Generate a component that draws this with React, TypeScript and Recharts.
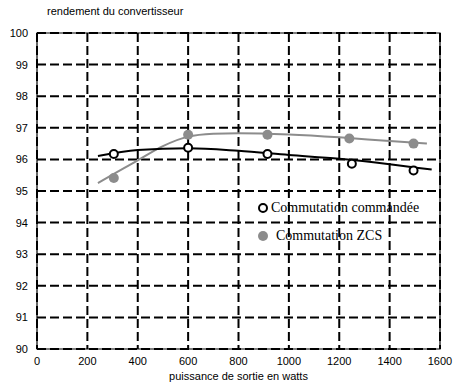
import React from 'react';
import {
  ComposedChart,
  Line,
  Scatter,
  XAxis,
  YAxis,
  CartesianGrid,
  ReferenceArea,
} from 'recharts';

// mesures (points)
const commandeeX = [305, 600, 915, 1250, 1495];
const commandeeY = [96.17, 96.37, 96.17, 95.86, 95.65];
const zcsX = [305, 600, 915, 1240, 1495];
const zcsY = [95.41, 96.78, 96.78, 96.66, 96.5];

// courbes de tendance
const commandeeFitX = [242, 400, 600, 800, 1000, 1200, 1400, 1567];
const commandeeFitY = [96.11, 96.3, 96.35, 96.27, 96.14, 96.02, 95.85, 95.68];
const zcsFitX = [242, 300, 400, 500, 600, 700, 800, 1000, 1200, 1400, 1548];
const zcsFitY = [95.25, 95.52, 95.97, 96.42, 96.72, 96.81, 96.83, 96.79, 96.7, 96.58, 96.5];

const xTicks = [0, 200, 400, 600, 800, 1000, 1200, 1400, 1600];
const yTicks = [90, 91, 92, 93, 94, 95, 96, 97, 98, 99, 100];

const zip = (xs: number[], ys: number[]) => xs.map((x, i) => ({ x, y: ys[i] }));

const GRAY = '#8c8c8c';
const sans = '"Liberation Sans", Arial, sans-serif';
const serif = '"Liberation Serif", "Times New Roman", serif';

const OpenDot = (props: any) => (
  <circle cx={props.cx} cy={props.cy} r={4} fill="#fff" stroke="#000" strokeWidth={2} />
);
const FullDot = (props: any) => <circle cx={props.cx} cy={props.cy} r={5} fill={GRAY} />;

// légende dans le graphe
const LegendBox = () => (
  <div
    style={{
      position: 'absolute',
      left: 257,
      top: 194,
      fontFamily: serif,
      fontSize: 14,
      color: '#000',
      lineHeight: '28px',
    }}
  >
    <div style={{ display: 'flex', alignItems: 'center' }}>
      <svg width={14} height={14}>
        <circle cx={6} cy={7} r={4} fill="#fff" stroke="#000" strokeWidth={2} />
      </svg>
      <span>Commutation commandée</span>
    </div>
    <div style={{ display: 'flex', alignItems: 'center' }}>
      <svg width={19} height={14}>
        <circle cx={6} cy={7} r={5} fill={GRAY} />
      </svg>
      <span>Commutation ZCS</span>
    </div>
  </div>
);

export default function App() {
  return (
    <div style={{ position: 'absolute', left: 0, top: 0, width: 457, height: 383, background: '#fff' }}>
      <div
        style={{
          position: 'absolute',
          left: 47,
          top: 5,
          fontFamily: sans,
          fontSize: 11,
          color: '#000',
        }}
      >
        rendement du convertisseur
      </div>
      <ComposedChart width={457} height={383} margin={{ top: 33, right: 17, bottom: 0, left: 0 }}>
        <CartesianGrid stroke="#000" strokeWidth={2} strokeDasharray="9 4" />
        <XAxis
          type="number"
          dataKey="x"
          domain={[0, 1600]}
          ticks={xTicks}
          height={34}
          axisLine={false}
          tickLine={false}
          tick={{ fontFamily: sans, fontSize: 11, fill: '#000' }}
          tickMargin={2}
          label={{
            value: 'puissance de sortie en watts',
            position: 'insideBottom',
            offset: 3,
            style: { fontFamily: sans, fontSize: 11, fill: '#000' },
          }}
        />
        <YAxis
          type="number"
          dataKey="y"
          domain={[90, 100]}
          ticks={yTicks}
          width={37}
          axisLine={false}
          tickLine={false}
          tickMargin={3}
          tick={{ fontFamily: sans, fontSize: 11, fill: '#000' }}
        />
        <ReferenceArea x1={0} x2={1600} y1={90} y2={100} fill="none" stroke="#000" strokeWidth={1.2} />
        <Line
          data={zip(zcsFitX, zcsFitY)}
          dataKey="y"
          type="monotone"
          stroke={GRAY}
          strokeWidth={2}
          dot={false}
          isAnimationActive={false}
        />
        <Line
          data={zip(commandeeFitX, commandeeFitY)}
          dataKey="y"
          type="monotone"
          stroke="#000"
          strokeWidth={2}
          dot={false}
          isAnimationActive={false}
        />
        <Scatter
          name="Commutation commandée"
          data={zip(commandeeX, commandeeY)}
          dataKey="y"
          shape={OpenDot}
          isAnimationActive={false}
        />
        <Scatter
          name="Commutation ZCS"
          data={zip(zcsX, zcsY)}
          dataKey="y"
          shape={FullDot}
          isAnimationActive={false}
        />
      </ComposedChart>
      <LegendBox />
    </div>
  );
}
